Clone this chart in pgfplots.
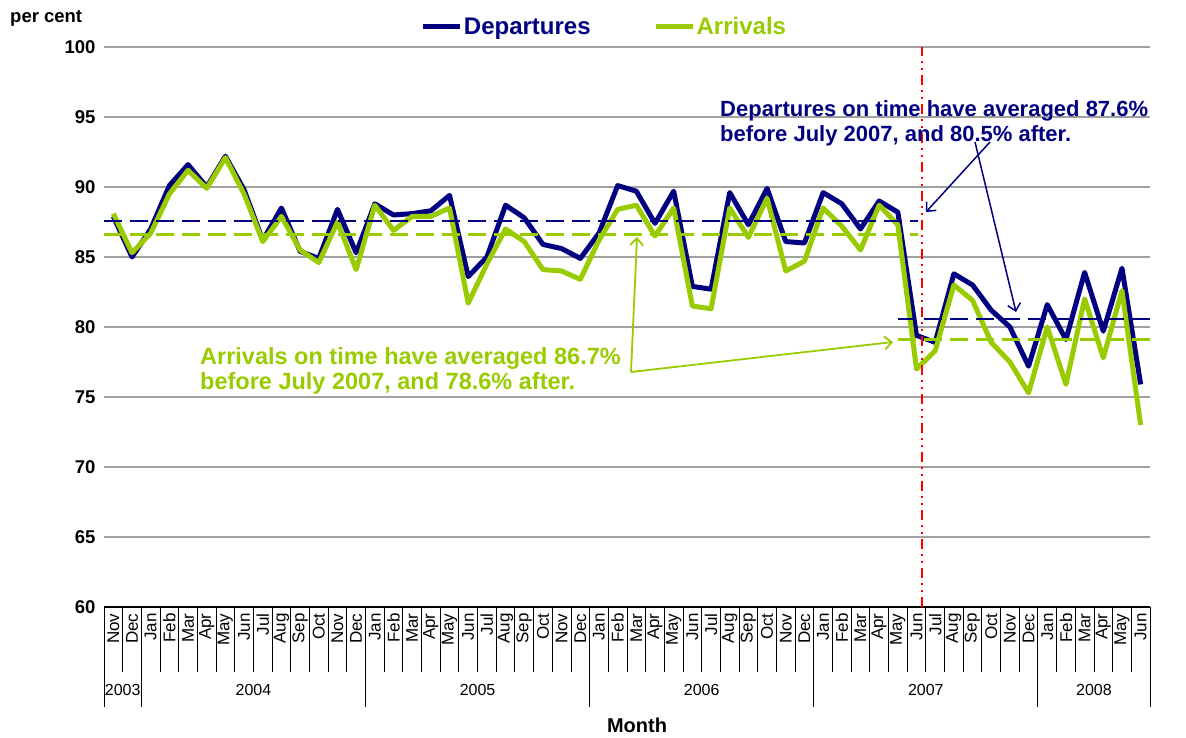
\documentclass[border=0pt]{standalone}
\usepackage{pgfplots}
\pgfplotsset{compat=1.18}
\usepackage{pgfplotstable}
\usepackage{fontspec}
\setmainfont{Liberation Sans}
\usetikzlibrary{arrows.meta}
\definecolor{navy}{RGB}{0,0,128}
\definecolor{lime}{RGB}{153,204,0}
\definecolor{gridgray}{RGB}{160,160,160}

\pgfplotstableread{
i dep arr
0 87.9 88.1
1 85.0 85.3
2 87.0 86.7
3 90.1 89.5
4 91.6 91.2
5 90.0 89.9
6 92.2 92.1
7 89.8 89.5
8 86.2 86.1
9 88.5 87.9
10 85.4 85.5
11 84.9 84.6
12 88.4 87.5
13 85.3 84.1
14 88.8 88.7
15 88.0 86.9
16 88.1 87.9
17 88.3 87.9
18 89.4 88.5
19 83.6 81.7
20 85.0 84.5
21 88.7 87.0
22 87.8 86.1
23 85.9 84.1
24 85.6 84.0
25 84.9 83.4
26 86.7 86.2
27 90.1 88.4
28 89.7 88.7
29 87.4 86.5
30 89.7 88.5
31 82.9 81.5
32 82.7 81.3
33 89.6 88.5
34 87.3 86.4
35 89.9 89.2
36 86.1 84.0
37 86.0 84.7
38 89.6 88.5
39 88.8 87.2
40 87.0 85.5
41 89.0 88.7
42 88.2 87.3
43 79.4 77.0
44 78.9 78.3
45 83.8 83.0
46 83.0 81.9
47 81.2 78.9
48 80.0 77.5
49 77.2 75.3
50 81.6 80.0
51 79.1 75.9
52 83.9 82.0
53 79.7 77.8
54 84.2 82.6
55 75.9 73.0
}\data

\begin{document}
\begin{tikzpicture}[x=1pt,y=1pt]
\path[use as bounding box] (0,0) rectangle (1186,737);
\begin{axis}[
  at={(104pt,130pt)}, anchor=south west,
  width=1046pt, height=560pt, scale only axis,
  xmin=-0.5, xmax=55.5, ymin=60, ymax=100,
  ytick={60,65,...,100},
  ymajorgrids, grid style={gridgray, line width=1.3pt},
  axis x line*=bottom, axis y line*=left,
  x axis line style={-, black, line width=1.3pt},
  y axis line style={draw=none},
  major tick length=0pt,
  tick align=outside,
  /pgf/number format/assume math mode=true,
  yticklabel style={font=\fontsize{18.5}{20}\selectfont\bfseries, xshift=-5pt},
  xtick={0,...,55},
  xticklabels={Nov,Dec,
    Jan,Feb,Mar,Apr,May,Jun,Jul,Aug,Sep,Oct,Nov,Dec,
    Jan,Feb,Mar,Apr,May,Jun,Jul,Aug,Sep,Oct,Nov,Dec,
    Jan,Feb,Mar,Apr,May,Jun,Jul,Aug,Sep,Oct,Nov,Dec,
    Jan,Feb,Mar,Apr,May,Jun,Jul,Aug,Sep,Oct,Nov,Dec,
    Jan,Feb,Mar,Apr,May,Jun},
  xticklabel shift=3pt,
  x tick label style={rotate=90, anchor=east, font=\fontsize{17}{19}\selectfont},
  clip=false,
  legend style={at={(axis description cs:0.478,1.036)}, anchor=center,
    draw=none, fill=none, legend columns=2,
    font=\bfseries\fontsize{24}{28}\selectfont,
    nodes={inner xsep=1pt},
    /tikz/every even column/.append style={column sep=62pt}},
  legend image code/.code={\draw[#1] (0pt,0pt) -- (37pt,0pt);},
]
\addplot[navy, line width=5pt, line join=round] table[x=i,y=dep] {\data};
\addlegendentry{\textcolor{navy}{Departures}}
\addplot[lime, line width=5pt, line join=round] table[x=i,y=arr] {\data};
\addlegendentry{\textcolor{lime}{Arrivals}}

\addplot[navy, line width=2pt, dash pattern=on 18pt off 8pt, forget plot] coordinates {(-0.5,87.6) (43.1,87.6)};
\addplot[lime, line width=2.5pt, dash pattern=on 18pt off 8pt, forget plot] coordinates {(-0.5,86.6) (43.1,86.6)};
\addplot[navy, line width=2pt, dash pattern=on 18pt off 8pt, forget plot] coordinates {(42.0,80.6) (55.5,80.6)};
\addplot[lime, line width=2.5pt, dash pattern=on 18pt off 8pt, forget plot] coordinates {(42.0,79.1) (55.5,79.1)};

\addplot[red, line width=2pt, dash pattern=on 10pt off 5pt on 2pt off 5pt on 2pt off 5pt, forget plot] coordinates {(43.3,60) (43.3,100)};

\pgfplotsinvokeforeach{-0.5,0.5,...,55.5}{
  \draw[black, line width=0.9pt] (axis cs:#1,60) -- ([yshift=-65pt]axis cs:#1,60);
}
\pgfplotsinvokeforeach{-0.5,1.5,13.5,25.5,37.5,49.5,55.5}{
  \draw[black, line width=0.9pt] (axis cs:#1,60) -- ([yshift=-100pt]axis cs:#1,60);
}
\node[font=\fontsize{16}{18}\selectfont] at (axis cs:0.5,60) [yshift=-83pt] {2003};
\node[font=\fontsize{16}{18}\selectfont] at (axis cs:7.5,60) [yshift=-83pt] {2004};
\node[font=\fontsize{16}{18}\selectfont] at (axis cs:19.5,60) [yshift=-83pt] {2005};
\node[font=\fontsize{16}{18}\selectfont] at (axis cs:31.5,60) [yshift=-83pt] {2006};
\node[font=\fontsize{16}{18}\selectfont] at (axis cs:43.5,60) [yshift=-83pt] {2007};
\node[font=\fontsize{16}{18}\selectfont] at (axis cs:52.5,60) [yshift=-83pt] {2008};
\end{axis}

\node[font=\bfseries\fontsize{20}{22}\selectfont] at (637,12) {Month};
\node[font=\bfseries\fontsize{18.5}{20}\selectfont, anchor=west, inner sep=0pt] at (10,719) {per cent};

\node[font=\bfseries\fontsize{22}{25}\selectfont, text=navy, align=left, anchor=north west, inner sep=0pt] at (720,637)
  {Departures on time have averaged 87.6\%\\before July 2007, and 80.5\% after.};
\node[font=\bfseries\fontsize{23.5}{25}\selectfont, text=lime, align=left, anchor=north west, inner sep=0pt] at (200,390)
  {Arrivals on time have averaged 86.7\%\\before July 2007, and 78.6\% after.};

\draw[navy, line width=1.5pt, -{Straight Barb[length=7pt,width=13pt]}] (990,595) -- (926,525);
\draw[navy, line width=1.5pt, -{Straight Barb[length=7pt,width=13pt]}] (975,595) -- (1016,425);
\draw[lime, line width=1.8pt, -{Straight Barb[length=7pt,width=13pt]}] (631,365) -- (637,500);
\draw[lime, line width=1.8pt, -{Straight Barb[length=7pt,width=13pt]}] (631,365) -- (893,395);
\end{tikzpicture}
\end{document}
